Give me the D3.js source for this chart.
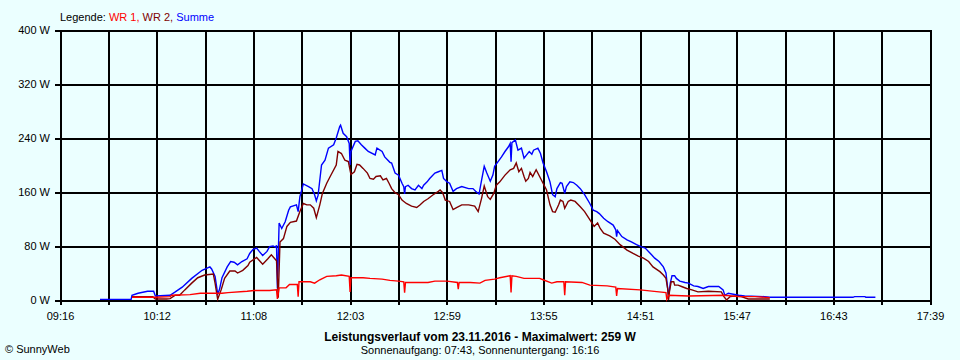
<!DOCTYPE html>
<html>
<head>
<meta charset="utf-8">
<script src="https://cdn.jsdelivr.net/npm/d3@7"></script>
<style>
html, body { margin: 0; padding: 0; background: #ebffff; }
svg { display: block; font-family: "Liberation Sans", Arial, sans-serif; }
</style>
</head>
<body>
<svg id="chart" width="960" height="360"></svg>
<script>
// axis range and labels
const axisStart = "9:16:24", axisEnd = "17:39:03";
const xLabels = ["09:16","10:12","11:08","12:03","12:59","13:55","14:51","15:47","16:43","17:39"];
const yTicks = [0, 80, 160, 240, 320, 400];

// Summe (blue)
const sumTime = ["9:39:30","9:45","9:57:30","9:58","10:01:30","10:07","10:10:30","10:11:30","10:20","10:23","10:27","10:32:30","10:38:30","10:43","10:44","10:46","10:47:30","10:48:30","10:50","10:53","10:55","10:57","10:59","11:01:30","11:04:30","11:06","11:08","11:10","11:11:30","11:13:30","11:16","11:17:30","11:19:30","11:21","11:21:30","11:22","11:23","11:24:30","11:26:30","11:28:30","11:29:30","11:33","11:34","11:35","11:37","11:40","11:42","11:43:30","11:44:30","11:45:30","11:47:30","11:49:30","11:51:30","11:54:30","11:56","11:58","11:58:30","12:00","12:02","12:03:30","12:04","12:04:30","12:07","12:08:30","12:10:30","12:12:30","12:14:30","12:18:30","12:19:30","12:22:30","12:24","12:27","12:28","12:30","12:32","12:34","12:35","12:35:30","12:36","12:37:30","12:39:30","12:41:30","12:43:30","12:45:30","12:46:30","12:48:30","12:50","12:53","12:55","12:57","12:58","13:00","13:01:30","13:03:30","13:05:30","13:08:30","13:12:30","13:15","13:16:30","13:18:30","13:20","13:21:30","13:23","13:25","13:26:30","13:27:30","13:29:30","13:31:30","13:33:30","13:35:30","13:36:30","13:37","13:37:30","13:39:30","13:41","13:43","13:44:30","13:46","13:47:30","13:49","13:50","13:52:30","13:54","13:55:30","13:57:30","13:59:30","14:01","14:02:30","14:03:30","14:05:30","14:06:30","14:08","14:09","14:11","14:13","14:15","14:17","14:19:30","14:22:30","14:24:30","14:26:30","14:28","14:30:30","14:33","14:36","14:37:30","14:38","14:38:30","14:41","14:44","14:46:30","14:49:30","14:52","14:54:30","14:57:30","15:00","15:02:30","15:05","15:06:30","15:07:30","15:08","15:09","15:10","15:11:30","15:12:30","15:14:30","15:17:30","15:19:30","15:22:30","15:25","15:28","15:31","15:37","15:39:30","15:40:30","15:42:30","15:48:30","15:52","16:03:30","16:06:30","16:54:30","16:55:30","17:01:30","17:02","17:07:30"];
const sumWatt = [1,1,1,7,10,13,13,6,7,12,19,32,44,49,46,35,9,15,33,49,57,56,52,57,61,69,75,77,72,66,72,79,80,78,81,17,114,106,116,133,138,141,131,153,172,168,165,156,147,155,200,207,225,230,240,257,259,247,242,232,200,220,235,236,230,225,220,215,225,220,212,204,203,188,185,173,168,157,168,170,165,163,170,165,170,175,180,188,190,192,180,175,173,161,165,168,165,165,161,157,178,198,188,176,185,198,205,212,220,227,232,205,233,237,222,225,210,215,220,216,222,225,217,203,190,175,156,153,165,174,173,158,168,175,174,170,165,156,143,133,131,128,121,116,111,104,94,103,94,89,86,82,79,77,69,62,57,49,40,17,5,25,36,36,32,28,26,25,21,20,17,20,20,15,7,10,7,6,5,4,4,5,5,4,4];

// WR 2 (dark red)
const wr2Time = ["9:58","10:10","10:11:30","10:18","10:20","10:23","10:25:30","10:28:30","10:32:30","10:36","10:40","10:45","10:46","10:47:30","10:49:30","10:51:30","10:54:30","10:57:30","10:59","11:02","11:05","11:06","11:10","11:13:30","11:16:30","11:18:30","11:21:30","11:22:30","11:23:30","11:25:30","11:27:30","11:29:30","11:33","11:35","11:37","11:39","11:41","11:43","11:44:30","11:46:30","11:48","11:50:30","11:52:30","11:56","11:57","11:59","12:01","12:03","12:04:30","12:06:30","12:08","12:09:30","12:11:30","12:14","12:15:30","12:17:30","12:19","12:21:30","12:23","12:25","12:26:30","12:28","12:30","12:32","12:34","12:36:30","12:39:30","12:42:30","12:44:30","12:46:30","12:49","12:52","12:55","12:56","12:57:30","12:59","13:01:30","13:03:30","13:05:30","13:08:30","13:12:30","13:16","13:18","13:20","13:21:30","13:23:30","13:25","13:27","13:28:30","13:30:30","13:33:30","13:36:30","13:38:30","13:40","13:41:30","13:43","13:44:30","13:45:30","13:47","13:48","13:49:30","13:51:30","13:53:30","13:55:30","13:57:30","13:59:30","14:01","14:02:30","14:04:30","14:05:30","14:07","14:08","14:10","14:11:30","14:14","14:17","14:19:30","14:22:30","14:25","14:27","14:28:30","14:30:30","14:34","14:37","14:40","14:44","14:47:30","14:50:30","14:53:30","14:56:30","14:59","15:03","15:05","15:06:30","15:07:30","15:08","15:08:30","15:09:30","15:11","15:11:30","15:13:30","15:15:30","15:18:30","15:21:30","15:25","15:31","15:38:30","15:40","15:41:30","15:43:30","15:46:30","15:50","15:54","16:06:30"];
const wr2Watt = [5,5,1.5,1.5,2,7,7,15,25,33,37,38.5,25,1,15,32,43,43,40,44,51,56,63,53,61,67,58,3.5,86,91,109,115,117,131,143,141,141,136,122,141,158,173,183,200,220,217,207,205,186,190,201,200,195,188,180,179,183,184,178,180,173,165,159,156,148,143,139,137,141,146,150,156,161,163,159,148,146,134,137,141,141,139,131,151,169,153,149,158,170,175,185,193,195,203,190,195,183,176,180,189,183,193,183,173,163,141,131,130,141,148,146,136,146,148,146,138,131,119,109,114,106,99,95,90,82,74,69,65,62,57,49,42,37,32,17,0,12,27,27,22,22,20,17,15,12,13,12,5,0,5,6,5,1.5,1.5];

// WR 1 (red)
const wr1Time = ["9:58","10:11:30","10:20","10:21","10:31:30","10:37:30","10:50","10:53:30","11:04:30","11:08:30","11:17:30","11:21:30","11:22","11:23","11:27","11:29","11:33:30","11:34","11:34:30","11:41","11:43:30","11:46:30","11:50:30","11:56","11:59","12:03:30","12:04","12:04:30","12:11:30","12:15:30","12:22:30","12:27","12:32","12:35","12:35:30","12:36","12:49","12:53","13:00","13:06","13:06:30","13:07","13:13:30","13:19","13:22","13:27:30","13:30:30","13:36:30","13:37","13:37:30","13:40","13:44:30","13:53:30","13:55:30","14:00:30","14:03:30","14:07:30","14:08","14:08:30","14:18","14:22:30","14:32:30","14:37:30","14:38","14:38:30","14:51:30","15:02:30","15:06:30","15:07","15:08","15:19:30","15:40:30","15:48","15:58","16:06:30"];
const wr1Watt = [4,4,5,7,8,10,10,11,13,14,14,15,1.5,18,18,23,23,5,27,27,25,30,35,36,37,35,12,33,33,32,31,29,28,27,11,26,26,28,28,26,16,26,26,25,29,31,33,36,11,36,35,32,32,30,25,27,27,7,27,26,22,21,19,6,17,15,12,11,1,7,6,7,5,5,3.5];

const toMin = s => { const p = s.split(":").map(Number); return p[0] * 60 + p[1] + (p[2] || 0) / 60; };
const series = (times, watts) => times.map((t, i) => ({ t: toMin(t), w: watts[i] }));

const svg = d3.select("#chart");
const x = d3.scaleLinear().domain([toMin(axisStart), toMin(axisEnd)]).range([60, 930]);
const y = d3.scaleLinear().domain([0, 400]).range([300, 30]);

// grid + axes
const step = (x.domain()[1] - x.domain()[0]) / 18;
const gridT = d3.range(19).map(i => x.domain()[0] + i * step);

const gx = svg.append("g").attr("transform", "translate(0,305)")
  .call(d3.axisBottom(x).tickValues(gridT).tickSize(-275).tickPadding(7)
    .tickFormat((d, i) => i % 2 ? "" : xLabels[i / 2]));
const gy = svg.append("g").attr("transform", "translate(55,0)")
  .call(d3.axisLeft(y).tickValues(yTicks).tickSize(-875).tickPadding(5)
    .tickFormat(d => d + " W"));

[gx, gy].forEach(g => {
  g.select(".domain").remove();
  g.selectAll("line").attr("stroke", "#000").attr("stroke-width", 2).attr("shape-rendering", "crispEdges");
  g.selectAll("text").attr("fill", "#000").style("font-size", "11px").style("font-family", "'Liberation Sans', Arial, sans-serif");
});

// lines
const line = d3.line().x(d => x(d.t)).y(d => y(d.w));
[[sumTime, sumWatt, "#0000ff"], [wr2Time, wr2Watt, "#800000"], [wr1Time, wr1Watt, "#ff0000"]].forEach(([t, w, c]) => {
  svg.append("path").datum(series(t, w)).attr("d", line)
    .attr("fill", "none").attr("stroke", c).attr("stroke-width", 1.4);
});

// legend
const leg = svg.append("text").attr("x", 60).attr("y", 21).style("font-size", "11px");
leg.append("tspan").attr("fill", "#000").text("Legende: ");
leg.append("tspan").attr("fill", "#ff0000").text("WR 1, ");
leg.append("tspan").attr("fill", "#800000").text("WR 2, ");
leg.append("tspan").attr("fill", "#0000ff").text("Summe");

// footer
svg.append("text").attr("x", 480).attr("y", 341).attr("text-anchor", "middle")
  .style("font-size", "12px").style("font-weight", "bold")
  .text("Leistungsverlauf vom 23.11.2016 - Maximalwert: 259 W");
svg.append("text").attr("x", 480).attr("y", 354).attr("text-anchor", "middle")
  .style("font-size", "11px")
  .text("Sonnenaufgang: 07:43, Sonnenuntergang: 16:16");
svg.append("text").attr("x", 5).attr("y", 353).style("font-size", "11px")
  .text("\u00A9 SunnyWeb");
</script>
</body>
</html>
